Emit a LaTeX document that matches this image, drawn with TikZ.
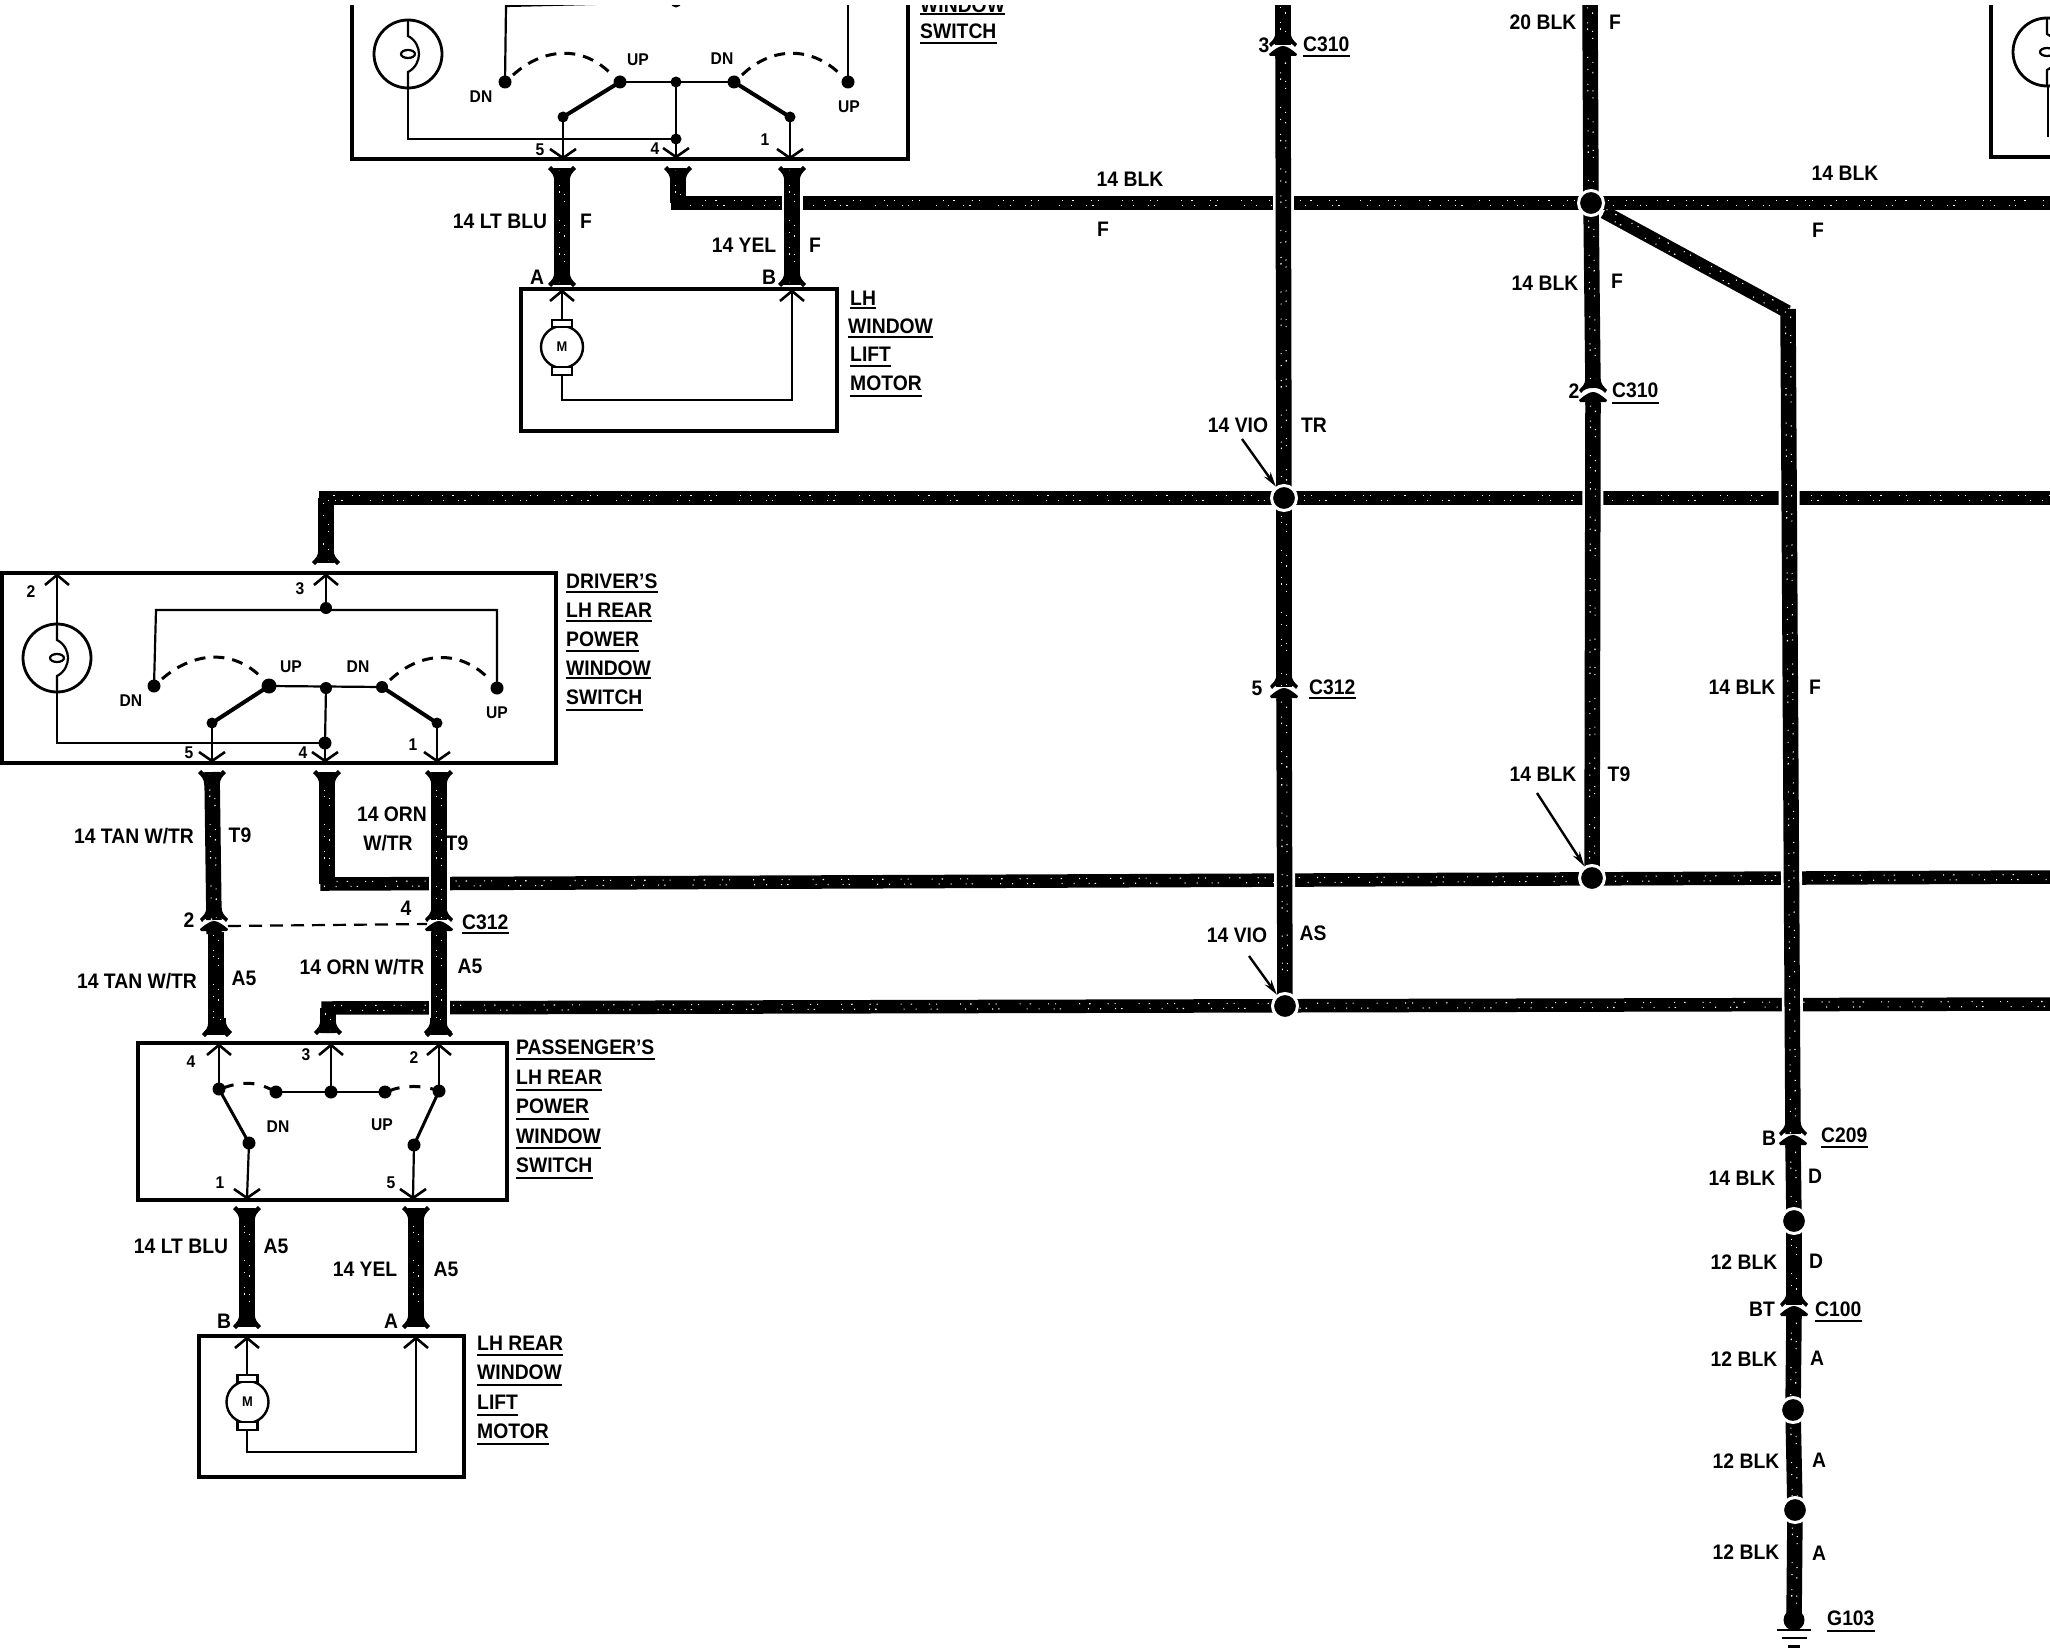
\documentclass[tikz,border=0pt]{standalone}
\usepackage{fontspec}
\setmainfont{Liberation Sans}[FakeStretch=0.92]
\usetikzlibrary{arrows.meta,calc}
\pgfdeclarelayer{bg}
\pgfsetlayers{bg,main}
\newcounter{nn}
\tikzset{
 txt/.style={font=\bfseries\fontsize{21}{21}\selectfont,inner sep=0pt,text=black},
 smalltxt/.style={font=\bfseries\fontsize{17}{17}\selectfont,inner sep=0pt,text=black},
 ul/.style={line width=2.2pt,black},
 speck/.style={postaction={draw=white,line width=1.1pt,dash pattern=on 1pt off 9pt on 1.5pt off 17pt on 1pt off 6pt on 1pt off 23pt,transform canvas={shift={(2.5pt,2.5pt)}}},
   postaction={draw=white,line width=1.1pt,dash pattern=on 1pt off 14pt on 1pt off 5pt on 1.5pt off 27pt on 1pt off 11pt,transform canvas={shift={(-2.5pt,-2.5pt)}}}},
 wire/.style={line width=15.5pt,black,line join=miter,speck},
 hwire/.style={line width=13.5pt,black,line join=miter,speck},
 halo/.style={line width=21pt,white},
 thin wire/.style={line width=2.2pt,black},
 boxline/.style={line width=3.6pt,black},
 blade/.style={line width=4pt,black},
 swing/.style={line width=3pt,black,dash pattern=on 11pt off 8pt},
 splice/.style={circle,fill=black,draw=white,line width=3pt,inner sep=0pt,minimum size=25pt},
 contact/.style={circle,fill=black,inner sep=0pt,minimum size=13pt},
 leader/.style={line width=2.4pt,black,-{Stealth[length=15pt,width=8pt]}},
 flareT/.pic={\fill (-14,1) -- (-11,-2) .. controls (-6,4) and (6,4) .. (11,-2) -- (14,1) .. controls (10,5) and (8,7) .. (7.7,13) -- (-7.7,13) .. controls (-8,7) and (-10,5) .. (-14,1) -- cycle;},
 flareB/.pic={\fill (-14,-1) -- (-11,2) .. controls (-6,-4) and (6,-4) .. (11,2) -- (14,-1) .. controls (10,-5) and (8,-7) .. (7.7,-13) -- (-7.7,-13) .. controls (-8,-7) and (-10,-5) .. (-14,-1) -- cycle;},
 conn/.pic={\fill (-14,-1) -- (-12,2) .. controls (-7,-5) and (7,-5) .. (12,2) -- (14,-1) .. controls (10,-5) and (8,-7) .. (7.7,-12) -- (-7.7,-12) .. controls (-8,-7) and (-10,-5) .. (-14,-1) -- cycle;
   \fill (-14,9) -- (-13,11) -- (-7.7,11) -- (-7.7,14) -- (7.7,14) -- (7.7,11) -- (13,11) -- (14,9) .. controls (7,3) and (3,1) .. (0,1) .. controls (-3,1) and (-7,3) .. (-14,9) -- cycle;},
 vdown/.pic={\draw[line width=2.6pt] (-13,-9) -- (0,0) -- (13,-9);},
 vup/.pic={\draw[line width=2.6pt] (-12,10) -- (0,0) -- (12,10);},
 lamp/.pic={\draw[line width=2.8pt] (0,0) circle[radius=34];
   \draw[thin wire] (0,-34) -- (0,-18) .. controls (8,-14) and (11,-6) .. (11,0) .. controls (11,6) and (8,14) .. (0,18) -- (0,34);
   \draw[thin wire] (0,0) ellipse[x radius=7,y radius=4];},
 motor/.pic={\draw[line width=2.4pt,fill=white] (0,0) circle[radius=21];
   \draw[line width=2.4pt,fill=white] (-10,-27) rectangle (10,-20);
   \draw[line width=2.4pt,fill=white] (-10,20) rectangle (10,28);
   \node[font=\bfseries\fontsize{14}{14}\selectfont,inner sep=0pt] {M};},
}
\newcommand{\lab}[3]{\stepcounter{nn}\node[txt] (t\arabic{nn}) at (#1,#2) {#3};}
\newcommand{\pin}[3]{\stepcounter{nn}\node[smalltxt] (t\arabic{nn}) at (#1,#2) {#3};}
\newcommand{\ulab}[4]{\stepcounter{nn}\node[txt,anchor=west] (t\arabic{nn}) at (#1,#2) {#3};
  \draw[ul] (t\arabic{nn}.west |- 0,#4) -- (t\arabic{nn}.east |- 0,#4);}
\begin{document}
\begin{tikzpicture}[x=1pt,y=-1pt]
\useasboundingbox (0,0) rectangle (2050,1648);
% ---------- splices
\node[splice] (s1) at (1591,203) {};
\node[splice] (s2) at (1284,498) {};
\node[splice] (s3) at (1592,878) {};
\node[splice] (s4) at (1285,1006) {};
\node[splice] (s5) at (1794,1221) {};
\node[splice] (s6) at (1793,1410) {};
\node[splice] (s7) at (1795,1510) {};
\node[circle,fill=black,inner sep=0pt,minimum size=21pt] (gnd) at (1794,1620) {};
% ---------- wire end points
\coordinate (g1) at (678,168); \coordinate (g1c) at (678,203); \coordinate (g1e) at (2050,203);
\coordinate (g2) at (326,563); \coordinate (g2c) at (326,498); \coordinate (g2e) at (2050,498);
\coordinate (g3) at (327,772); \coordinate (g3c) at (327,884); \coordinate (g3e) at (2050,877);
\coordinate (g4) at (328,1033); \coordinate (g4c) at (328,1008); \coordinate (g4e) at (2050,1004);
\coordinate (a1) at (562,168); \coordinate (a2) at (562,285);
\coordinate (b1) at (792,168); \coordinate (b2) at (792,285);
\coordinate (c1) at (212,772); \coordinate (c2) at (214,920); \coordinate (c3) at (216,1035);
\coordinate (d1) at (439,772); \coordinate (d2) at (439,920); \coordinate (d3) at (439,1035);
\coordinate (e1) at (218,1033); \coordinate (e2) at (438,1033);
\coordinate (f1) at (247,1208); \coordinate (f2) at (247,1327);
\coordinate (h1) at (416,1208); \coordinate (h2) at (416,1327);
\coordinate (k0) at (1283,5); \coordinate (k1) at (1283,45); \coordinate (k2) at (1284,687);
\coordinate (m0) at (1590,5); \coordinate (m1) at (1593,391);
\coordinate (n1) at (1604,212); \coordinate (n2) at (1788,312); \coordinate (n3) at (1793,1134);
\coordinate (n4) at (1794,1305);
\begin{pgfonlayer}{bg}
\fill[white] (0,0) rectangle (2050,1648);
% horizontal runs
\draw[hwire] (g1) -- (g1c) -- (g1e);
\draw[hwire] (g2) -- (g2c) -- (g2e);
\draw[hwire] (g3) -- (g3c) -- (g3e);
\draw[hwire] (g4) -- (g4c) -- (g4e);
\draw[wire] (g1) -- (g1c);
\draw[wire] (g2) -- (g2c);
\draw[wire] (g3) -- (g3c);
\draw[wire] (g4) -- (g4c);
% vertical runs, with a gap in the runs they cross
\draw[halo] (b1) -- (b2);
\draw[wire] (a1) -- (a2);
\draw[wire] (b1) -- (b2);
\draw[halo] (k0) -- (k1 |- s2);
\draw[wire] (k0) -- (k1);
\draw[wire] (k1) ++(0,10) -- (s2.center);
\draw[wire] (s2.center) -- (k2);
\draw[halo] (k2) ++(0,20) -- (s4.center);
\draw[wire] (k2) ++(0,12) -- (s4.center);
\draw[wire] (m0) -- (s1.center);
\draw[wire] (s1.center) -- ($(m1)+(0,-3)$);
\draw[halo] (m1) ++(0,20) -- (s3.center);
\draw[wire] (m1) ++(0,12) -- (s3.center);
\draw[halo] (n2) ++(0,20) -- ($(n3)+(0,-20)$);
\draw[hwire] (n1) -- (n2);
\draw[wire] (n2) ++(0,-3) -- (n3);
\draw[wire] (n3) ++(0,10) -- (s5.center);
\draw[wire] (s5.center) -- (n4);
\draw[wire] (n4) ++(0,10) -- (s6.center);
\draw[wire] (s6.center) -- (s7.center);
\draw[wire] (s7.center) -- (gnd.center);
\draw[halo] (d1) -- (d2);
\draw[wire] (d1) -- (d2);
\draw[halo] (d2) ++(0,12) -- (d3);
\draw[wire] (d2) ++(0,12) -- (d3);
\draw[wire] (c1) -- (c2);
\draw[wire] (c2) ++(2,12) -- (c3);
\draw[wire] (e1) -- +(0,-15);
\draw[wire] (e2) -- +(0,-15);
\draw[wire] (f1) -- (f2);
\draw[wire] (h1) -- (h2);
\end{pgfonlayer}
% ---------- wire-end flares and connectors
\foreach \p in {g1,a1,b1,f1,h1,c1,d1,g3} \pic at (\p) {flareT};
\foreach \p in {g2,a2,b2,f2,h2,c3,d3,g4,e1,e2} \pic at (\p) {flareB};
\pic at (1283,45) {conn};
\pic at (1593,391) {conn};
\pic at (1284,687) {conn};
\pic at (214,920) {conn};
\pic at (439,920) {conn};
\pic at (1793,1134) {conn};
\pic at (1794,1305) {conn};
\draw[line width=2.2pt,dash pattern=on 13pt off 8pt] (228,926) -- (427,924);
% ground bars
\draw[line width=2.6pt] ($(gnd)+(-17,10)$) -- ($(gnd)+(17,10)$);
\draw[line width=2.6pt] ($(gnd)+(-12,18)$) -- ($(gnd)+(13,18)$);
\draw[line width=4pt] ($(gnd)+(-6,27)$) -- ($(gnd)+(6,27)$);
% ---------- top LH switch
\draw[boxline] (352,0) -- (352,159) -- (908,159) -- (908,0);
\pic at (408,54) {lamp};
\node[contact] (ta) at (505,82) {};
\node[contact] (tb) at (620,82) {};
\node[contact,minimum size=11pt] (tc) at (676,82) {};
\node[contact] (td) at (734,82) {};
\node[contact] (te) at (848,82) {};
\node[contact,minimum size=11pt] (tf) at (563,117) {};
\node[contact,minimum size=11pt] (tg) at (790,117) {};
\node[contact,minimum size=11pt] (th) at (676,139) {};
\node[contact,minimum size=11pt] (ti) at (676,2) {};
\coordinate (tl) at (408,88); \coordinate (tl2) at (408,139);
\draw[thin wire] (tl) -- (tl2) -- (th.center);
\draw[thin wire] (ta.center) -- (506,6) -- (ti.center);
\draw[thin wire] (te.center) -- (848,0);
\draw[thin wire] (tb.center) -- (td.center);
\draw[thin wire] (tc.center) -- (th.center);
\draw[blade] (tf.center) -- (tb.center);
\draw[blade] (td.center) -- (tg.center);
\draw[swing] (ta.center) ++(8,-7) .. controls (545,46) and (585,46) .. (612,75);
\draw[swing] (td.center) ++(8,-7) .. controls (772,46) and (812,46) .. (841,75);
\draw[thin wire] (tf.center) -- (563,158);
\draw[thin wire] (th.center) -- (676,158);
\draw[thin wire] (tg.center) -- (790,158);
\pic at (563,158) {vdown}; \pic at (676,157) {vdown}; \pic at (790,158) {vdown};
\pin{481}{97}{DN} \pin{638}{60}{UP} \pin{722}{59}{DN} \pin{849}{107}{UP}
\pin{540}{150}{5} \pin{655}{149}{4} \pin{765}{140}{1}
\ulab{920}{5}{WINDOW}{14}
\ulab{920}{31}{SWITCH}{43}
\lab{500}{221}{14 LT BLU} \lab{586}{221}{F}
\lab{744}{245}{14 YEL} \lab{815}{245}{F}
\lab{537}{277}{A} \lab{769}{277}{B}
\lab{1130}{179}{14 BLK} \lab{1103}{229}{F}
\lab{1845}{173}{14 BLK} \lab{1818}{230}{F}
% ---------- LH motor
\draw[boxline] (521,289) rectangle (837,431);
\coordinate (ma) at (562,291); \coordinate (mb) at (792,291);
\draw[thin wire] (ma) -- (562,320);
\draw[thin wire] (562,375) -- (562,400) -- (792,400) -- (mb);
\pic at (ma) {vup}; \pic at (mb) {vup};
\pic at (562,347) {motor};
\ulab{850}{298}{LH}{308}
\ulab{848}{326}{WINDOW}{337}
\ulab{850}{354}{LIFT}{366}
\ulab{850}{383}{MOTOR}{396}
% ---------- right edge switch
\draw[boxline] (1991,0) -- (1991,157) -- (2050,157);
\pic at (2047,52) {lamp};
\draw[thin wire] (2048,86) -- (2048,137);
% ---------- driver's switch
\draw[boxline] (2,573) rectangle (556,763);
\pic at (57,658) {lamp};
\node[contact] (da) at (154,686) {};
\node[contact,minimum size=15pt] (db) at (269,686) {};
\node[contact,minimum size=12pt] (dc) at (326,688) {};
\node[contact,minimum size=12pt] (dd) at (382,687) {};
\node[contact] (de) at (497,688) {};
\node[contact,minimum size=11pt] (df) at (212,723) {};
\node[contact,minimum size=11pt] (dg) at (437,723) {};
\node[contact,minimum size=13pt] (dh) at (325,743) {};
\node[contact,minimum size=12pt] (di) at (326,608) {};
\coordinate (dp) at (57,575); \coordinate (dq) at (326,575);
\draw[thin wire] (dp) -- (57,624);
\draw[thin wire] (57,692) -- (57,743) -- (dh.center);
\draw[thin wire] (dq) -- (di.center);
\draw[thin wire] (da.center) -- (156,610) -- (497,610) -- (de.center);
\draw[thin wire] (db.center) -- (dd.center);
\draw[thin wire] (dc.center) -- (dh.center);
\draw[blade] (df.center) -- (db.center);
\draw[blade] (dd.center) -- (dg.center);
\draw[swing] (da.center) ++(8,-7) .. controls (195,650) and (235,650) .. (262,678);
\draw[swing] (dd.center) ++(8,-7) .. controls (422,650) and (462,650) .. (490,680);
\draw[thin wire] (df.center) -- (212,761);
\draw[thin wire] (dh.center) -- (325,761);
\draw[thin wire] (dg.center) -- (437,761);
\pic at (dp) {vup}; \pic at (dq) {vup};
\pic at (212,761) {vdown}; \pic at (325,761) {vdown}; \pic at (437,761) {vdown};
\pin{31}{592}{2} \pin{300}{589}{3} \pin{131}{701}{DN} \pin{291}{667}{UP} \pin{358}{667}{DN} \pin{497}{713}{UP}
\pin{189}{753}{5} \pin{303}{753}{4} \pin{413}{745}{1}
\ulab{566}{581}{DRIVER'S}{592}
\ulab{566}{610}{LH REAR}{621}
\ulab{566}{639}{POWER}{651}
\ulab{566}{668}{WINDOW}{678}
\ulab{566}{697}{SWITCH}{710}
\lab{134}{836}{14 TAN W/TR} \lab{240}{835}{T9}
\lab{392}{814}{14 ORN} \lab{388}{843}{W/TR} \lab{457}{843}{T9}
\lab{189}{920}{2} \lab{406}{908}{4}
\ulab{462}{922}{C312}{933}
\lab{137}{981}{14 TAN W/TR} \lab{244}{978}{A5}
\lab{362}{967}{14 ORN W/TR} \lab{470}{966}{A5}
% ---------- passenger's switch
\draw[boxline] (138,1043) rectangle (507,1200);
\node[contact] (pa) at (219,1089) {};
\node[contact] (pb) at (276,1092) {};
\node[contact] (pc) at (331,1092) {};
\node[contact] (pd) at (385,1092) {};
\node[contact] (pe) at (439,1091) {};
\node[contact] (pf) at (249,1143) {};
\node[contact] (pg) at (414,1145) {};
\coordinate (p4) at (219,1045); \coordinate (p3) at (331,1045); \coordinate (p2) at (439,1045);
\draw[line width=2.6pt] (p4) -- (pa.center);
\draw[line width=2.6pt] (p3) -- (pc.center);
\draw[line width=2.6pt] (p2) -- (pe.center);
\draw[line width=2.6pt] (pb.center) -- (pd.center);
\draw[blade,line width=3pt] (pa.center) -- (pf.center);
\draw[blade,line width=3pt] (pe.center) -- (pg.center);
\draw[swing,dash pattern=on 11pt off 10pt] (pa.center) ++(4,-1) .. controls (240,1082) and (255,1080) .. (pb.center);
\draw[swing,dash pattern=on 11pt off 10pt] (pd.center) ++(4,-1) .. controls (400,1086) and (420,1084) .. (pe.center);
\draw[thin wire] (pf.center) -- (247,1198);
\draw[thin wire] (pg.center) -- (413,1198);
\pic at (p4) {vup}; \pic at (p3) {vup}; \pic at (p2) {vup};
\pic at (247,1198) {vdown}; \pic at (413,1198) {vdown};
\pin{191}{1062}{4} \pin{306}{1055}{3} \pin{414}{1058}{2} \pin{278}{1127}{DN} \pin{382}{1125}{UP} \pin{220}{1183}{1} \pin{391}{1183}{5}
\ulab{516}{1047}{PASSENGER'S}{1059}
\ulab{516}{1077}{LH REAR}{1090}
\ulab{516}{1106}{POWER}{1119}
\ulab{516}{1136}{WINDOW}{1148}
\ulab{516}{1165}{SWITCH}{1178}
\lab{181}{1246}{14 LT BLU} \lab{276}{1246}{A5}
\lab{365}{1269}{14 YEL} \lab{446}{1269}{A5}
\lab{224}{1321}{B} \lab{391}{1321}{A}
% ---------- LH rear motor
\draw[boxline] (199,1336) rectangle (464,1477);
\coordinate (ra) at (247,1338); \coordinate (rb) at (416,1338);
\draw[thin wire] (ra) -- (247,1376);
\draw[thin wire] (247,1430) -- (247,1452) -- (416,1452) -- (rb);
\pic at (ra) {vup}; \pic at (rb) {vup};
\pic at (247.5,1402) {motor};
\ulab{477}{1343}{LH REAR}{1355}
\ulab{477}{1372}{WINDOW}{1385}
\ulab{477}{1402}{LIFT}{1415}
\ulab{477}{1431}{MOTOR}{1444}
% ---------- vertical-run labels
\lab{1264}{45}{3}
\ulab{1303}{44}{C310}{56}
\lab{1543}{22}{20 BLK} \lab{1615}{22}{F}
\lab{1545}{283}{14 BLK} \lab{1617}{281}{F}
\lab{1574}{391}{2}
\ulab{1612}{390}{C310}{403}
\lab{1238}{425}{14 VIO} \lab{1314}{425}{TR}
\lab{1257}{688}{5}
\ulab{1309}{687}{C312}{698}
\lab{1543}{774}{14 BLK} \lab{1619}{774}{T9}
\lab{1237}{935}{14 VIO} \lab{1313}{933}{AS}
\lab{1742}{687}{14 BLK} \lab{1815}{687}{F}
\lab{1769}{1138}{B}
\ulab{1821}{1135}{C209}{1147}
\lab{1742}{1178}{14 BLK} \lab{1815}{1176}{D}
\lab{1744}{1262}{12 BLK} \lab{1816}{1261}{D}
\lab{1762}{1309}{BT}
\ulab{1815}{1309}{C100}{1321}
\lab{1744}{1359}{12 BLK} \lab{1817}{1358}{A}
\lab{1746}{1461}{12 BLK} \lab{1819}{1460}{A}
\lab{1746}{1552}{12 BLK} \lab{1819}{1553}{A}
\ulab{1827}{1618}{G103}{1631}
% ---------- leaders
\coordinate (q1) at (1242,439); \coordinate (q2) at (1537,793); \coordinate (q3) at (1249,956);
\draw[leader] (q1) -- (s2);
\draw[leader] (q2) -- (s3);
\draw[leader] (q3) -- (s4);
% top margin of the sheet
\fill[white] (0,0) rectangle (2050,5);
\end{tikzpicture}
\end{document}
